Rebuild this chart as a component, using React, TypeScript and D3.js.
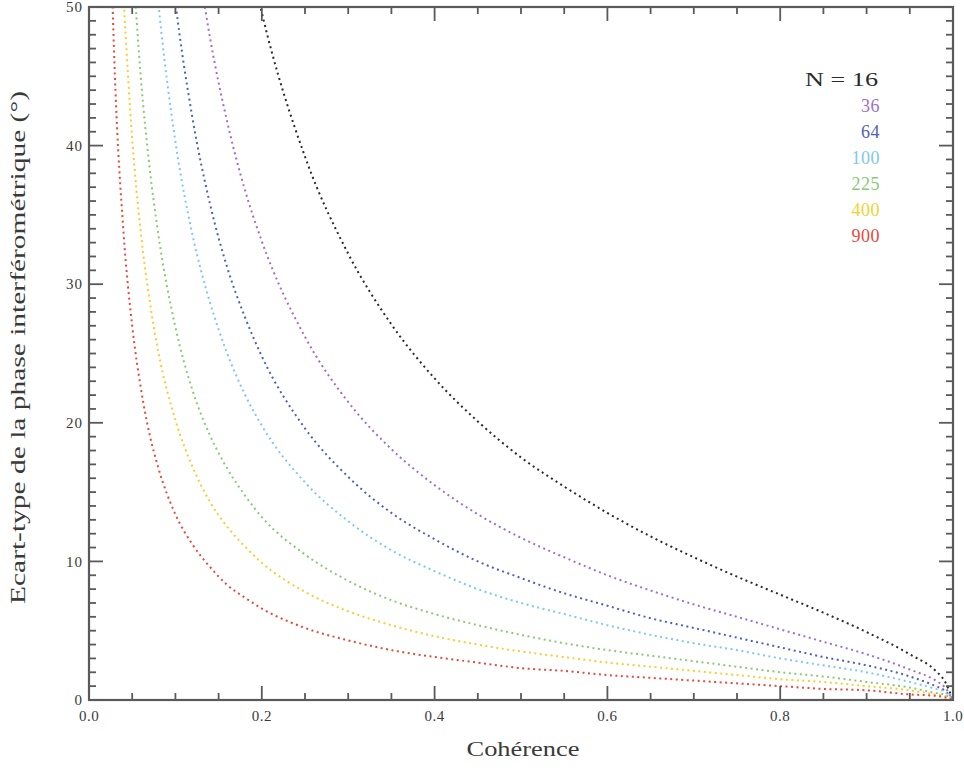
import React from "react";
import * as d3 from "d3";



// coherence samples (x), shared by all series
const coherence: number[] = [
    0.02, 0.03, 0.04, 0.05, 0.06, 0.07, 0.08, 0.10, 0.12, 0.14, 0.16, 0.18,
    0.20, 0.25, 0.30, 0.35, 0.40, 0.45, 0.50, 0.55, 0.60, 0.65, 0.70, 0.75,
    0.80, 0.85, 0.90, 0.95, 0.98, 0.99, 1.00,
];

// phase std-dev in degrees, one array per number of looks N (null = off the top)
const sigma_N16: (number|null)[] = [
    null, null, null, null, null, null, null, null, null, null, null, 55.3,
    49.6, 39.2, 32.2, 27.1, 23.2, 20.1, 17.5, 15.4, 13.5, 11.8, 10.3, 8.9,
    7.6, 6.3, 4.9, 3.3, 2.1, 1.4, 0,
];
const sigma_N36: (number|null)[] = [
    null, null, null, null, null, null, null, null, 55.9, 47.8, 41.7, 36.9,
    33.1, 26.2, 21.5, 18.1, 15.5, 13.4, 11.7, 10.3, 9.0, 7.9, 6.9, 6.0,
    5.1, 4.2, 3.3, 2.2, 1.4, 0.95, 0,
];
const sigma_N64: (number|null)[] = [
    null, null, null, null, null, null, 63.1, 50.4, 41.9, 35.8, 31.2, 27.7,
    24.8, 19.6, 16.1, 13.5, 11.6, 10.0, 8.8, 7.7, 6.8, 5.9, 5.2, 4.5,
    3.8, 3.1, 2.5, 1.7, 1.0, 0.7, 0,
];
const sigma_N100: (number|null)[] = [
    null, null, null, null, null, 57.7, 50.5, 40.3, 33.5, 28.7, 25.0, 22.1,
    19.8, 15.7, 12.9, 10.8, 9.3, 8.0, 7.0, 6.2, 5.4, 4.7, 4.1, 3.6,
    3.0, 2.5, 2.0, 1.3, 0.8, 0.6, 0,
];
const sigma_N225: (number|null)[] = [
    null, null, null, 54.0, 44.9, 38.5, 33.7, 26.9, 22.3, 19.1, 16.7, 14.8,
    13.2, 10.5, 8.6, 7.2, 6.2, 5.4, 4.7, 4.1, 3.6, 3.2, 2.8, 2.4,
    2.0, 1.7, 1.3, 0.9, 0.5, 0.4, 0,
];
const sigma_N400: (number|null)[] = [
    null, null, 50.6, 40.5, 33.7, 28.9, 25.2, 20.2, 16.8, 14.3, 12.5, 11.1,
    9.9, 7.8, 6.4, 5.4, 4.6, 4.0, 3.5, 3.1, 2.7, 2.4, 2.1, 1.8,
    1.5, 1.3, 1.0, 0.7, 0.4, 0.3, 0,
];
const sigma_N900: (number|null)[] = [
    67.5, 45.0, 33.7, 27.0, 22.5, 19.2, 16.8, 13.4, 11.2, 9.6, 8.3, 7.4,
    6.6, 5.2, 4.3, 3.6, 3.1, 2.7, 2.3, 2.1, 1.8, 1.6, 1.4, 1.2,
    1.0, 0.8, 0.7, 0.4, 0.3, 0.2, 0,
];

const looks:  string[] = ["16", "36", "64", "100", "225", "400", "900"];
const colors: string[] = ["#2a2a2a", "#a070c8", "#5060b8", "#80c8ea", "#8cc878", "#f2d030", "#e8483e"];
const series: (number|null)[][] = [
    sigma_N16, sigma_N36, sigma_N64, sigma_N100, sigma_N225, sigma_N400, sigma_N900,
];

const x_major: number[] = [0, 0.2, 0.4, 0.6, 0.8, 1.0];
const y_major: number[] = [0, 10, 20, 30, 40, 50];

const x_label: string = "Cohérence";
const y_label: string = "Ecart-type de la phase interférométrique (°)";



export default function App(): JSX.Element {
    const width  = 964;
    const height = 773;
    const margin = { top: 7, right: 11, bottom: 73, left: 89 };
    const w: number = width  - margin.left - margin.right;
    const h: number = height - margin.top  - margin.bottom;

    const x = d3.scaleLinear().domain([0, 1]).range([0, w]);
    const y = d3.scaleLinear().domain([0, 50]).range([h, 0]);

    const line = d3.line<[number, number|null]>()
        .defined(d => d[1] != null)
        .x(d => x(d[0]))
        .y(d => y(d[1] as number))
        .curve(d3.curveMonotoneX);

    // IDL-style minor ticks: every 0.05 in x, every 1 in y
    const x_minor: number[] = d3.range(0, 1.0001, 0.05).filter(v => !x_major.some(m => Math.abs(m - v) < 1e-6));
    const y_minor: number[] = d3.range(0, 50.001, 1).filter(v => v % 10 != 0);

    const axis_col = "#5a5a5a";
    const txt_col  = "#3a3a3a";
    const font = "'Liberation Serif', 'DejaVu Serif', serif";
    const MAJ = 14, MIN = 7;

    return <svg width={width} height={height} style={{ position: "absolute", left: 0, top: 0, background: "#fff" }}>
        <defs>
            <clipPath id="plot-clip">
                <rect x={0} y={0} width={w} height={h} />
            </clipPath>
        </defs>
        <g transform={`translate(${margin.left},${margin.top})`}>

            <g clipPath="url(#plot-clip)">
                {series.map((vals, i) =>
                    <path
                        key   = {looks[i]}
                        d     = {line(coherence.map((c, j) => [c, vals[j]] as [number, number|null])) ?? ""}
                        fill  = "none"
                        stroke= {colors[i]}
                        strokeWidth = {2}
                        strokeDasharray = "2,3.5"
                    />
                )}
            </g>

            {/* frame */}
            <rect x={0} y={0} width={w} height={h} fill="none" stroke={axis_col} strokeWidth={2.2} />

            {/* x ticks, bottom and top */}
            {x_major.map(v => <g key={`xM${v}`}>
                <line x1={x(v)} x2={x(v)} y1={h} y2={h - MAJ} stroke={axis_col} strokeWidth={1.8} />
                <line x1={x(v)} x2={x(v)} y1={0} y2={MAJ} stroke={axis_col} strokeWidth={1.8} />
                <text x={x(v)} y={h + 21} textAnchor="middle" fontFamily={font} fontSize={15}
                      letterSpacing={0.5} fill={txt_col}>
                    {v.toFixed(1)}
                </text>
            </g>)}
            {x_minor.map(v => <g key={`xm${v}`}>
                <line x1={x(v)} x2={x(v)} y1={h} y2={h - MIN} stroke={axis_col} strokeWidth={1.8} />
                <line x1={x(v)} x2={x(v)} y1={0} y2={MIN} stroke={axis_col} strokeWidth={1.8} />
            </g>)}

            {/* y ticks, left and right */}
            {y_major.map(v => <g key={`yM${v}`}>
                <line x1={0} x2={MAJ} y1={y(v)} y2={y(v)} stroke={axis_col} strokeWidth={1.8} />
                <line x1={w} x2={w - MAJ} y1={y(v)} y2={y(v)} stroke={axis_col} strokeWidth={1.8} />
                <text x={-6} y={y(v)} dy="0.35em" textAnchor="end" fontFamily={font} fontSize={15}
                      letterSpacing={1} fill={txt_col}>
                    {v}
                </text>
            </g>)}
            {y_minor.map(v => <g key={`ym${v}`}>
                <line x1={0} x2={MIN} y1={y(v)} y2={y(v)} stroke={axis_col} strokeWidth={1.8} />
                <line x1={w} x2={w - MIN} y1={y(v)} y2={y(v)} stroke={axis_col} strokeWidth={1.8} />
            </g>)}

            {/* legend */}
            <text x={716} y={73} dy="0.35em" fontFamily={font} fontSize={18} fill="#2a2a2a"
                  textLength={73} lengthAdjust="spacingAndGlyphs">
                {`N = ${looks[0]}`}
            </text>
            {looks.slice(1).map((n, i) =>
                <text key={n} x={791} y={99 + i * 26} dy="0.35em" textAnchor="end"
                      fontFamily={font} fontSize={18} letterSpacing={0.5} fill={colors[i + 1]}>
                    {n}
                </text>
            )}

            {/* axis titles */}
            <text x={w / 2 + 2} y={h + 56} textAnchor="middle" fontFamily={font} fontSize={21} fill={txt_col}
                  textLength={113} lengthAdjust="spacingAndGlyphs">
                {x_label}
            </text>
            <text transform={`translate(${-64},${h / 2 - 6}) rotate(-90)`} textAnchor="middle"
                  fontFamily={font} fontSize={21} fill={txt_col}
                  textLength={513} lengthAdjust="spacingAndGlyphs">
                {y_label}
            </text>
        </g>
    </svg>
}
